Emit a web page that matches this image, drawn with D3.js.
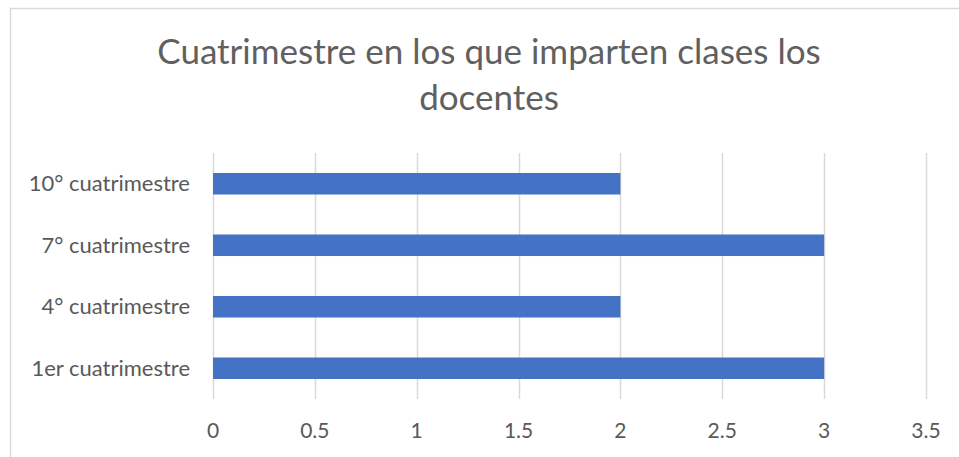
<!DOCTYPE html>
<html>
<head>
<meta charset="utf-8">
<style>
  body { margin: 0; background: #fff; }
  svg text { font-family: Lato, "Open Sans", sans-serif; fill: #595959; }
</style>
</head>
<body>
<div id="chart"></div>
<script src="https://d3js.org/d3.v7.min.js"></script>
<script>
// categories top to bottom, as shown in the chart
var categories = ["10° cuatrimestre", "7° cuatrimestre", "4° cuatrimestre", "1er cuatrimestre"];
var values = [2, 3, 2, 3];
var tickValues = [0, 0.5, 1, 1.5, 2, 2.5, 3, 3.5];
var titleLines = ["Cuatrimestre en los que imparten clases los", "docentes"];

var width = 959, height = 457;

var svg = d3.select("#chart").append("svg")
    .attr("width", width)
    .attr("height", height);

// chart frame
svg.append("rect")
    .attr("x", 10.5).attr("y", 8.5)
    .attr("width", width + 20).attr("height", height + 20)
    .attr("fill", "#fff")
    .attr("stroke", "#d9d9d9")
    .attr("stroke-width", 1.5);

var x = d3.scaleLinear().domain([0, 3.5]).range([213, 926]);
var y = d3.scaleBand().domain(categories).range([153, 399])
    .paddingInner(0.65).paddingOuter(0.325);

// title
svg.append("g").selectAll("text")
    .data(titleLines)
    .enter().append("text")
    .attr("x", 489)
    .attr("y", function(d, i) { return 64 + i * 46; })
    .attr("text-anchor", "middle")
    .style("font-size", "35px")
    .style("font-weight", 400)
    .style("fill", "#606060")
    .text(function(d) { return d; });

// vertical gridlines
svg.append("g").selectAll("line")
    .data(tickValues)
    .enter().append("line")
    .attr("x1", function(d) { return Math.round(x(d)) + 0.5; })
    .attr("x2", function(d) { return Math.round(x(d)) + 0.5; })
    .attr("y1", 153).attr("y2", 399)
    .attr("stroke", "#d9d9d9")
    .attr("stroke-width", 1.5);

// bars
svg.append("g").selectAll("rect")
    .data(categories)
    .enter().append("rect")
    .attr("x", x(0))
    .attr("y", function(d) { return y(d); })
    .attr("width", function(d, i) { return x(values[i]) - x(0); })
    .attr("height", y.bandwidth())
    .attr("fill", "#4472c4");

// category labels
svg.append("g").selectAll("text")
    .data(categories)
    .enter().append("text")
    .attr("x", 190)
    .attr("y", function(d) { return y(d) + y.bandwidth() / 2 + 7.5; })
    .attr("text-anchor", "end")
    .style("font-size", "22px")
    .text(function(d) { return d; });

// x tick labels
svg.append("g").selectAll("text")
    .data(tickValues)
    .enter().append("text")
    .attr("x", function(d) { return x(d); })
    .attr("y", 438)
    .attr("text-anchor", "middle")
    .style("font-size", "21px")
    .text(function(d) { return d; });
</script>
</body>
</html>
